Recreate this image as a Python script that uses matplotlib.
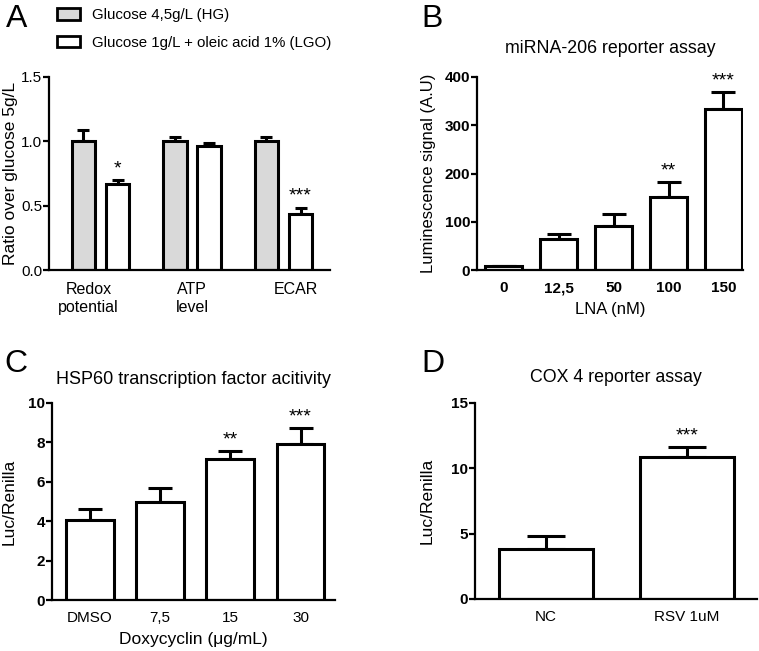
import matplotlib.pyplot as plt
from matplotlib.patches import Patch
import numpy as np

plt.rcParams['font.family'] = ['Liberation Sans', 'DejaVu Sans']

# Panel A
a_groups = ['Redox\npotential', 'ATP\nlevel', 'ECAR']
a_hg = [1.0, 1.0, 1.0]
a_hg_err = [0.09, 0.03, 0.03]
a_lgo = [0.67, 0.96, 0.435]
a_lgo_err = [0.03, 0.03, 0.05]
a_lgo_sig = ['*', '', '***']

# Panel B
b_labels = ['0', '12,5', '50', '100', '150']
b_vals = [8, 64, 92, 152, 333]
b_err = [1, 11, 24, 30, 36]
b_sig = ['', '', '', '**', '***']

# Panel C
c_labels = ['DMSO', '7,5', '15', '30']
c_vals = [4.05, 5.0, 7.15, 7.9]
c_err = [0.55, 0.67, 0.4, 0.82]
c_sig = ['', '', '**', '***']

# Panel D
d_labels = ['NC', 'RSV 1uM']
d_vals = [3.85, 10.9]
d_err = [0.95, 0.7]
d_sig = ['', '***']

W, H = 759, 651
fig = plt.figure(figsize=(W / 100, H / 100), dpi=100)


def add_ax(left, top, right, bottom):
    return fig.add_axes([left / W, 1 - bottom / H, (right - left) / W, (bottom - top) / H])


def style(ax):
    for s in ['top', 'right']:
        ax.spines[s].set_visible(False)
    for s in ['left', 'bottom']:
        ax.spines[s].set_linewidth(1.6)
    ax.tick_params(axis='y', width=1.6, length=4, labelsize=11, pad=1)
    ax.tick_params(axis='x', length=0, labelsize=11, pad=8)


def draw_bars(ax, x, vals, err, width, capsize, color='white', sig=None):
    ax.bar(x, vals, width, color=color, edgecolor='black', linewidth=2.2, zorder=2)
    ax.errorbar(x, vals, yerr=[np.zeros(len(vals)), err], fmt='none',
                ecolor='black', elinewidth=2.2, capsize=capsize, capthick=2.2, zorder=1)
    if sig:
        for xi, v, e, s in zip(x, vals, err, sig):
            if s:
                ax.annotate(s, (xi, v + e), xytext=(0, 2), textcoords='offset points',
                            ha='center', va='bottom', fontsize=14)


# ---- A
axA = add_ax(49, 77, 330, 270)
style(axA)
gx = np.arange(len(a_groups))
off = 0.186
draw_bars(axA, gx - off, a_hg, a_hg_err, 0.26, 4.5, color='#d9d9d9')
draw_bars(axA, gx + off, a_lgo, a_lgo_err, 0.26, 4.5, sig=a_lgo_sig)
axA.set_xlim(-0.563, 2.508)
axA.set_ylim(0, 1.5)
axA.set_yticks([0, 0.5, 1.0, 1.5])
axA.set_yticklabels(['0.0', '0.5', '1.0', '1.5'])
axA.set_xticks(gx - 0.13 * np.array([1, 0, -1]))
axA.set_xticklabels(a_groups, fontsize=11.5)
axA.tick_params(axis='x', pad=9)
axA.set_ylabel('Ratio over glucose 5g/L', fontsize=12.5, labelpad=2)
fig.legend(handles=[Patch(facecolor='#d9d9d9', edgecolor='black', linewidth=2, label='Glucose 4,5g/L (HG)'),
                    Patch(facecolor='white', edgecolor='black', linewidth=2, label='Glucose 1g/L + oleic acid 1% (LGO)')],
           loc='upper left', bbox_to_anchor=(57 / W, 1 - 8 / H), frameon=False, fontsize=10.8,
           borderpad=0, borderaxespad=0,
           handlelength=1.5, handleheight=0.8, handletextpad=0.8, labelspacing=0.9)

# ---- B
axB = add_ax(477, 77, 743, 270)
style(axB)
bx = np.arange(len(b_vals))
draw_bars(axB, bx, b_vals, b_err, 0.67, 8.5, sig=b_sig)
axB.set_xlim(-0.487, 4.355)
axB.set_ylim(0, 400)
axB.set_yticks([0, 100, 200, 300, 400])
axB.set_xticks(bx)
axB.set_xticklabels(b_labels, fontweight='bold')
for t in axB.get_yticklabels():
    t.set_fontweight('bold')
axB.set_ylabel('Luminescence signal (A.U)', fontsize=12, labelpad=6)
axB.set_xlabel('LNA (nM)', fontsize=12, labelpad=5)
axB.set_title('miRNA-206 reporter assay', fontsize=12.8, pad=17)

# ---- C
axC = add_ax(52, 403, 335, 600)
style(axC)
cx = np.arange(len(c_vals))
draw_bars(axC, cx, c_vals, c_err, 0.68, 8.5, sig=c_sig)
axC.set_xlim(-0.54, 3.49)
axC.set_ylim(0, 10)
axC.set_yticks([0, 2, 4, 6, 8, 10])
axC.set_xticks(cx)
axC.set_xticklabels(c_labels)
for t in axC.get_yticklabels():
    t.set_fontweight('bold')
axC.set_ylabel('Luc/Renilla', fontsize=12.5, labelpad=8)
axC.set_xlabel('Doxycyclin (\u03bcg/mL)', fontsize=12.5, labelpad=5)
axC.set_title('HSP60 transcription factor acitivity', fontsize=13, pad=14)

# ---- D
axD = add_ax(475, 403, 757, 599)
style(axD)
dx = np.arange(len(d_vals))
draw_bars(axD, dx, d_vals, d_err, 0.67, 14, sig=d_sig)
axD.set_xlim(-0.505, 1.50)
axD.set_ylim(0, 15)
axD.set_yticks([0, 5, 10, 15])
axD.set_xticks(dx)
axD.set_xticklabels(d_labels)
for t in axD.get_yticklabels():
    t.set_fontweight('bold')
axD.set_ylabel('Luc/Renilla', fontsize=12.5, labelpad=12)
axD.set_title('COX 4 reporter assay', fontsize=12.8, pad=15)

# panel letters
for letter, x, y in [('A', 6, 27), ('B', 421, 27), ('C', 4, 372), ('D', 421, 372)]:
    fig.text(x / W, 1 - y / H, letter, fontsize=23, va='baseline', ha='left')

fig.savefig('out.png', dpi=100)
